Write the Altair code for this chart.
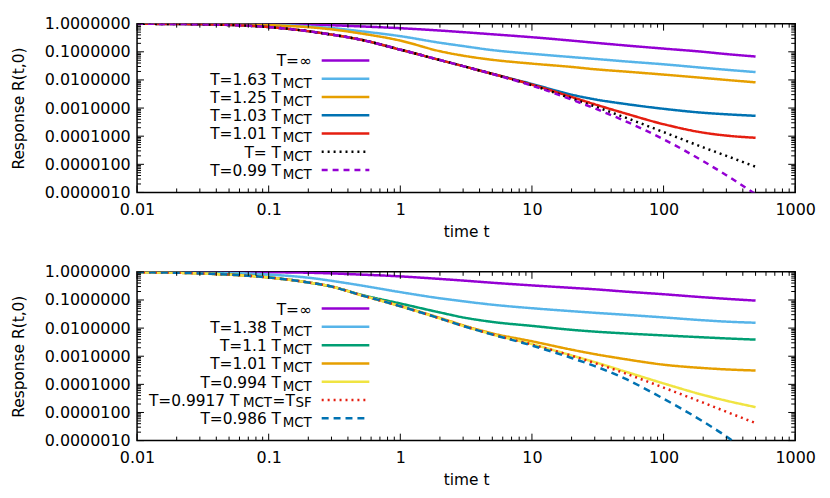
import altair as alt
import pandas as pd

# ---------------- data ----------------
t = [0.01, 0.03, 0.1, 0.2, 0.3, 0.5, 1, 2, 3, 5, 10, 20, 30, 50, 100, 200, 300, 500]

# top panel
top_inf = [1.0, 0.995, 0.97, 0.93, 0.88, 0.80, 0.69, 0.57, 0.50, 0.42, 0.33, 0.25, 0.21, 0.17, 0.13, 0.10, 0.083, 0.068]
top_163 = [1.0, 0.99, 0.94, 0.80, 0.70, 0.54, 0.36, 0.21, 0.16, 0.115, 0.085, 0.065, 0.056, 0.046, 0.036, 0.027, 0.023, 0.019]
top_125 = [1.0, 0.99, 0.89, 0.75, 0.63, 0.45, 0.25, 0.105, 0.073, 0.052, 0.038, 0.029, 0.024, 0.020, 0.0155, 0.0118, 0.0100, 0.0082]
top_103 = [0.99, 0.95, 0.76, 0.54, 0.41, 0.27, 0.119, 0.051, 0.031, 0.0166, 0.0072, 0.0030, 0.00204, 0.00142, 0.00094, 0.00068, 0.0006, 0.00053]
top_101 = [0.99, 0.95, 0.76, 0.54, 0.41, 0.27, 0.119, 0.051, 0.031, 0.0165, 0.0068, 0.00248, 0.00136, 0.000665, 0.000267, 0.000134, 0.000105, 0.0000877]
top_100 = [0.99, 0.95, 0.76, 0.54, 0.41, 0.27, 0.119, 0.051, 0.031, 0.0164, 0.0065, 0.0022, 0.00114, 0.00048, 0.00014, 0.00004, 0.00002, 0.0000082]
top_099 = [0.99, 0.95, 0.76, 0.54, 0.41, 0.27, 0.119, 0.051, 0.031, 0.0163, 0.0063, 0.0020, 0.00097, 0.00036, 0.000078, 0.0000129, 0.0000041, 0.00000087]

# bottom panel
bot_inf = [1.0, 0.995, 0.97, 0.93, 0.88, 0.80, 0.69, 0.56, 0.49, 0.41, 0.33, 0.27, 0.24, 0.20, 0.16, 0.125, 0.11, 0.095]
bot_138 = [1.0, 0.97, 0.80, 0.62, 0.48, 0.33, 0.19, 0.115, 0.09, 0.068, 0.051, 0.040, 0.035, 0.030, 0.024, 0.019, 0.017, 0.0155]
bot_110 = [0.99, 0.90, 0.64, 0.42, 0.30, 0.155, 0.075, 0.036, 0.024, 0.0166, 0.012, 0.0087, 0.0075, 0.0065, 0.0055, 0.0047, 0.0043, 0.0039]
bot_101 = [0.97, 0.88, 0.63, 0.42, 0.30, 0.15, 0.061, 0.023, 0.0126, 0.0065, 0.0034, 0.00171, 0.00119, 0.0008, 0.0005, 0.00038, 0.00034, 0.00031]
bot_0994 = [0.97, 0.88, 0.63, 0.42, 0.30, 0.15, 0.060, 0.022, 0.012, 0.0060, 0.0027, 0.00107, 0.00062, 0.000295, 0.000108, 0.000042, 0.0000262, 0.0000155]
bot_09917 = [0.97, 0.88, 0.63, 0.42, 0.30, 0.15, 0.060, 0.022, 0.012, 0.0060, 0.0026, 0.00104, 0.000575, 0.000255, 0.0000766, 0.0000223, 0.0000106, 0.0000042]
bot_0986 = [0.97, 0.88, 0.63, 0.42, 0.30, 0.15, 0.060, 0.022, 0.0119, 0.0059, 0.0024, 0.000863, 0.000447, 0.000166, 0.0000308, 0.00000475, 0.00000141, 0.00000024]

top_names = ["a0", "a1", "a2", "a3", "a4", "a5", "a6"]
top_series = [top_inf, top_163, top_125, top_103, top_101, top_100, top_099]
top_main = ["T=∞", "T=1.63 T", "T=1.25 T", "T=1.03 T", "T=1.01 T", "T= T", "T=0.99 T"]
top_kind = ["plain", "mct", "mct", "mct", "mct", "mct", "mct"]
top_colors = ["#9400d3", "#56b4e9", "#e69f00", "#0072b2", "#e51e10", "#000000", "#9400d3"]
top_dashes = [[1, 0], [1, 0], [1, 0], [1, 0], [1, 0], [2, 4], [6, 5]]

bot_names = ["b0", "b1", "b2", "b3", "b4", "b5", "b6"]
bot_series = [bot_inf, bot_138, bot_110, bot_101, bot_0994, bot_09917, bot_0986]
bot_main = ["T=∞", "T=1.38 T", "T=1.1 T", "T=1.01 T", "T=0.994 T", "T=0.9917 T", "T=0.986 T"]
bot_kind = ["plain", "mct", "mct", "mct", "mct", "sf", "mct"]
bot_colors = ["#9400d3", "#56b4e9", "#009e73", "#e69f00", "#f0e442", "#e51e10", "#0072b2"]
bot_dashes = [[1, 0], [1, 0], [1, 0], [1, 0], [1, 0], [2, 4], [7, 5]]

x_major = [0.01, 0.1, 1, 10, 100, 1000]
x_minor = [m * 10.0 ** k for k in range(-2, 3) for m in range(2, 10)]
y_major = [1e-6, 1e-5, 1e-4, 1e-3, 1e-2, 1e-1, 1.0]
y_minor = [m * 10.0 ** k for k in range(-6, 0) for m in range(2, 10)]

# ---------------- layout / style ----------------
W, H = 663, 170
FONT = "DejaVu Sans"
LEG_R = 176          # right edge of legend text (px inside plot)
LEG_X1, LEG_X2 = 186, 234
W_MCT, W_EQT, W_SF = 31, 23, 17
MAJ, MIN = 7, 4


def panel(names, series, mains, kinds, colors, dashes):
    rows = []
    for n, vals in zip(names, series):
        for ti, v in zip(t, vals):
            rows.append({"t": ti, "R": v, "series": n})
    df = pd.DataFrame(rows)
    leg = pd.DataFrame({"row": list(range(len(names))), "series": names,
                        "main": mains, "kind": kinds})

    xs = alt.Scale(type="log", domain=[0.01, 1000], nice=False)
    ys = alt.Scale(type="log", domain=[1e-6, 1], nice=False)
    rs = alt.Scale(domain=[0, 6], range=[37, 147.5], zero=False, nice=False)
    xaxis = alt.Axis(title="time t", values=x_major, format="~g")
    color = alt.Color("series:N", scale=alt.Scale(domain=names, range=colors), legend=None)
    dash = alt.StrokeDash("series:N", scale=alt.Scale(domain=names, range=dashes), legend=None)

    lines = alt.Chart(df).mark_line(strokeWidth=2.5, clip=True, interpolate="monotone").encode(
        x=alt.X("t:Q", scale=xs, axis=xaxis),
        y=alt.Y("R:Q", scale=ys, axis=alt.Axis(title="Response R(t,0)", values=y_major, format=".7f")),
        color=color, strokeDash=dash,
    )

    layers = [lines]
    for vals, L in ((x_major, MAJ), (x_minor, MIN)):
        d = pd.DataFrame({"v": vals})
        base = alt.Chart(d).mark_rule(color="black", strokeWidth=1)
        layers.append(base.encode(x=alt.X("v:Q", scale=xs, axis=xaxis), y=alt.value(H), y2=alt.value(H - L)))
        layers.append(base.encode(x=alt.X("v:Q", scale=xs, axis=xaxis), y=alt.value(0), y2=alt.value(L)))
    for vals, L in ((y_major, MAJ), (y_minor, MIN)):
        d = pd.DataFrame({"v": vals})
        base = alt.Chart(d).mark_rule(color="black", strokeWidth=1)
        layers.append(base.encode(y=alt.Y("v:Q", scale=ys, axis=None), x=alt.value(0), x2=alt.value(L)))
        layers.append(base.encode(y=alt.Y("v:Q", scale=ys, axis=None), x=alt.value(W), x2=alt.value(W - L)))

    lg = alt.Chart(leg)
    yrow = alt.Y("row:Q", scale=rs, axis=None)
    layers.append(lg.mark_rule(strokeWidth=2.5).encode(
        x=alt.value(LEG_X1), x2=alt.value(LEG_X2), y=yrow, color=color, strokeDash=dash))
    txt = dict(align="right", baseline="middle", font=FONT, color="black")
    main_kw = dict(fontSize=15.5, dy=1, **txt)
    sub_kw = dict(fontSize=13.5, dy=5, **txt)
    sub_kw2 = dict(fontSize=13.5, dy=3, **txt)
    layers.append(lg.transform_filter("datum.kind == 'plain'").mark_text(**main_kw).encode(
        x=alt.value(LEG_R), y=yrow, text="main:N"))
    layers.append(lg.transform_filter("datum.kind == 'mct'").mark_text(**main_kw).encode(
        x=alt.value(LEG_R - W_MCT), y=yrow, text="main:N"))
    layers.append(lg.transform_filter("datum.kind == 'mct'").mark_text(**sub_kw).encode(
        x=alt.value(LEG_R), y=yrow, text=alt.value("MCT")))
    if "sf" in kinds:
        f = lg.transform_filter("datum.kind == 'sf'")
        layers.append(f.mark_text(**main_kw).encode(
            x=alt.value(LEG_R - W_SF - W_EQT - W_MCT - 2), y=yrow, text="main:N"))
        layers.append(f.mark_text(**sub_kw2).encode(
            x=alt.value(LEG_R - W_SF - W_EQT), y=yrow, text=alt.value("MCT")))
        layers.append(f.mark_text(**main_kw).encode(
            x=alt.value(LEG_R - W_SF), y=yrow, text=alt.value("=T")))
        layers.append(f.mark_text(**sub_kw2).encode(
            x=alt.value(LEG_R), y=yrow, text=alt.value("SF")))

    return alt.layer(*layers).resolve_scale(y="independent").properties(width=W, height=H)


top = panel(top_names, top_series, top_main, top_kind, top_colors, top_dashes)
bot = panel(bot_names, bot_series, bot_main, bot_kind, bot_colors, bot_dashes)

chart = alt.vconcat(top, bot, spacing=22).resolve_scale(
    color="independent", strokeDash="independent"
).properties(
    padding={"left": 2, "top": 5, "right": 5, "bottom": 5}, background="white"
).configure_view(
    stroke="black", strokeWidth=1.5
).configure_axis(
    grid=False, domain=False, ticks=False, tickSize=0, labelOverlap=False, labelFlush=False,
    labelFont=FONT, labelFontSize=16, labelColor="black",
    titleFont=FONT, titleFontSize=15.5, titleFontWeight="normal", titleColor="black",
).configure_axisX(labelPadding=9, titlePadding=7).configure_axisY(labelPadding=7, titlePadding=18)

chart.save("out.html", embed_options={"renderer": "svg", "actions": False})
